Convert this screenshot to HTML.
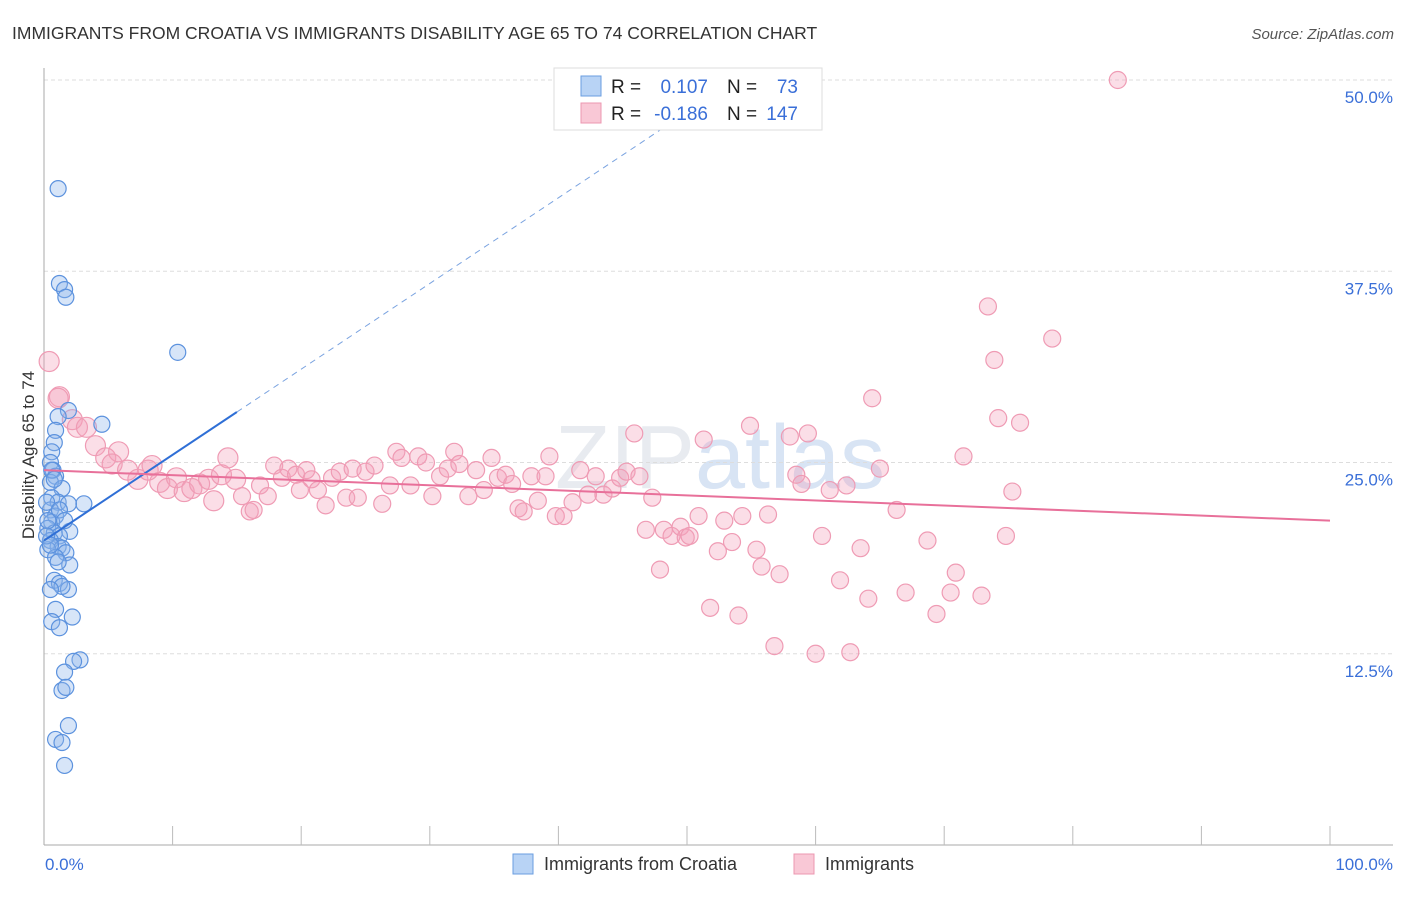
<!DOCTYPE html>
<html><head><meta charset="utf-8"><style>
body{margin:0;background:#fff;font-family:"Liberation Sans",sans-serif;}
svg text{font-family:"Liberation Sans",sans-serif;}
</style></head><body>
<svg width="1406" height="892" viewBox="0 0 1406 892" xmlns="http://www.w3.org/2000/svg">
<text x="12" y="39" font-size="17.5" fill="#333">IMMIGRANTS FROM CROATIA VS IMMIGRANTS DISABILITY AGE 65 TO 74 CORRELATION CHART</text>
<text x="1394" y="39" font-size="15" fill="#555" font-style="italic" text-anchor="end">Source: ZipAtlas.com</text>
<text x="720" y="488" font-size="90" fill="#e8ebf0" text-anchor="middle" font-family="Liberation Serif">ZIP<tspan fill="#d8e4f4" font-family="Liberation Sans">atlas</tspan></text>
<g id="grid"></g>
<g id="axes"></g>
<g id="pink"></g>
<g id="blue"></g>
<g id="trends"></g>
<text x="34" y="455" font-size="17" fill="#333" text-anchor="middle" transform="rotate(-90 34 455)">Disability Age 65 to 74</text>
<text x="45" y="870" font-size="17" fill="#3a6fd8">0.0%</text>
<text x="1393" y="870" font-size="17" fill="#3a6fd8" text-anchor="end">100.0%</text>
<g>
<rect x="554" y="68" width="268" height="62" fill="#fff" stroke="#ddd"/>
<rect x="581" y="76" width="20" height="20" fill="#b8d3f5" stroke="#6a9ee0"/>
<rect x="581" y="103" width="20" height="20" fill="#f9c8d6" stroke="#ec97b0"/>
<text x="611" y="93" font-size="19" fill="#222">R = </text><text x="708" y="93" font-size="19" fill="#3a6fd8" text-anchor="end">0.107</text>
<text x="727" y="93" font-size="19" fill="#222">N = </text><text x="798" y="93" font-size="19" fill="#3a6fd8" text-anchor="end">73</text>
<text x="611" y="120" font-size="19" fill="#222">R = </text><text x="708" y="120" font-size="19" fill="#3a6fd8" text-anchor="end">-0.186</text>
<text x="727" y="120" font-size="19" fill="#222">N = </text><text x="798" y="120" font-size="19" fill="#3a6fd8" text-anchor="end">147</text>
</g>
<g>
<rect x="513" y="854" width="20" height="20" fill="#b8d3f5" stroke="#6a9ee0"/>
<text x="544" y="870" font-size="18" fill="#333">Immigrants from Croatia</text>
<rect x="794" y="854" width="20" height="20" fill="#f9c8d6" stroke="#ec97b0"/>
<text x="825" y="870" font-size="18" fill="#333">Immigrants</text>
</g>
</svg>
<script>
const yTicks=[12.5,25,37.5,50];
const yTickLabels=["12.5%","25.0%","37.5%","50.0%"];
const blueX=[1.1,1.2,1.6,1.7,10.4,4.5,1.9,1.1,0.9,0.8,0.6,0.5,0.7,0.9,0.5,1.4,0.6,1.1,3.1,1.9,0.5,0.9,0.6,0.3,0.8,2.0,1.2,0.5,1.1,1.4,0.3,1.7,0.9,2.0,0.8,1.2,1.9,1.4,0.5,0.9,2.2,0.6,1.2,2.8,2.3,1.6,1.4,1.7,1.9,0.9,1.4,1.6,0.2,0.3,0.6,0.8,1.2,0.2,0.5,1.1,1.6];
const blueY=[42.9,36.7,36.3,35.8,32.2,27.5,28.4,28.0,27.1,26.3,25.7,25.0,24.5,24.1,23.7,23.3,22.7,22.4,22.3,22.3,21.9,21.5,21.1,20.7,20.4,20.5,20.2,19.9,19.5,19.4,19.3,19.1,18.8,18.3,17.3,17.1,16.7,16.9,16.7,15.4,14.9,14.6,14.2,12.1,12.0,11.3,10.1,10.3,7.8,6.9,6.7,5.2,22.4,21.2,24.5,23.9,21.9,20.2,19.6,18.5,21.2];
const pinkX=[0.4,1.2,1.1,2.2,2.6,3.3,4.0,4.8,5.8,5.3,6.5,7.3,8.1,8.4,9.0,9.6,10.3,10.9,11.5,12.1,12.8,13.2,13.8,14.3,14.9,15.4,16.0,16.3,16.8,17.4,17.9,18.5,19.0,19.6,19.9,20.4,20.8,21.3,21.9,22.4,23.0,23.5,24.0,24.4,25.0,25.7,26.3,26.9,27.4,27.8,28.5,29.1,29.7,30.2,30.8,31.4,31.9,32.3,33.0,33.6,34.2,34.8,35.3,35.9,36.4,36.9,37.3,37.9,38.4,39.0,39.3,39.8,40.4,41.1,41.7,42.3,42.9,43.5,44.2,44.8,45.3,45.9,46.3,46.8,47.3,47.9,48.2,48.8,49.5,49.9,50.2,50.9,51.3,51.8,52.4,52.9,53.5,54.0,54.3,54.9,55.4,55.8,56.3,56.8,57.2,58.0,58.5,58.9,59.4,60.0,60.5,61.1,61.9,62.4,62.7,63.5,64.1,64.4,65.0,66.3,67.0,68.7,69.4,70.5,70.9,71.5,72.9,73.4,73.9,74.2,74.8,75.3,75.9,78.4,83.5];
const pinkY=[31.6,29.3,29.2,27.8,27.3,27.3,26.1,25.3,25.7,24.9,24.5,23.9,24.5,24.8,23.7,23.3,24.0,23.1,23.3,23.6,23.9,22.5,24.2,25.3,23.9,22.8,21.8,21.9,23.5,22.8,24.8,24.0,24.6,24.2,23.2,24.5,23.9,23.2,22.2,24.0,24.4,22.7,24.6,22.7,24.4,24.8,22.3,23.5,25.7,25.3,23.5,25.4,25.0,22.8,24.1,24.6,25.7,24.9,22.8,24.5,23.2,25.3,24.0,24.2,23.6,22.0,21.8,24.1,22.5,24.1,25.4,21.5,21.5,22.4,24.5,22.9,24.1,22.9,23.3,24.0,24.4,26.9,24.1,20.6,22.7,18.0,20.6,20.2,20.8,20.1,20.2,21.5,26.5,15.5,19.2,21.2,19.8,15.0,21.5,27.4,19.3,18.2,21.6,13.0,17.7,26.7,24.2,23.6,26.9,12.5,20.2,23.2,17.3,23.5,12.6,19.4,16.1,29.2,24.6,21.9,16.5,19.9,15.1,16.5,17.8,25.4,16.3,35.2,31.7,27.9,20.2,23.1,27.6,33.1,50.0];
const blueTrend=[19.9,0.107];  // intercept, used with slope per % x
const pinkTrend=[24.5,21.2];   // y at x=0, y at x=100
const X0=44,X1=1330,Y0=845,YS=15.3;
const sx=v=>X0+(X1-X0)*v/100, sy=v=>Y0-v*YS;
const NS="http://www.w3.org/2000/svg";
function mk(t,a,p){const e=document.createElementNS(NS,t);for(const k in a)e.setAttribute(k,a[k]);p.appendChild(e);return e;}
const grid=document.getElementById('grid'),axes=document.getElementById('axes');
yTicks.forEach((t,i)=>{
 const l=mk('line',{x1:X0,x2:1393,y1:sy(t),y2:sy(t),stroke:'#ddd','stroke-dasharray':'4,3'},grid);
 
 
 const tx=mk('text',{x:1393,y:sy(t)+23,'font-size':17,fill:'#3a6fd8','text-anchor':'end'},axes);
 tx.textContent=yTickLabels[i];
 
 
});
const ya=mk('line',{x1:X0,x2:X0,y1:68,y2:Y0,stroke:'#aaa'},axes);


const xa=mk('line',{x1:X0,x2:1393,y1:Y0,y2:Y0,stroke:'#aaa'},axes);


for(let k=1;k<=10;k++){const t=mk('line',{x1:sx(k*10),x2:sx(k*10),y1:826,y2:Y0,stroke:'#bbb'},axes);
 
 }
const pg=document.getElementById('pink');
pinkX.forEach((x,i)=>{const c=mk('circle',{cx:sx(x),cy:sy(pinkY[i]),r:x<15?10:8.5,fill:'rgba(244,160,186,0.35)',stroke:'#ef9bb4','stroke-width':1.2},pg);
 
 });
const bg=document.getElementById('blue');
blueX.forEach((x,i)=>{const c=mk('circle',{cx:sx(x),cy:sy(blueY[i]),r:8,fill:'rgba(140,180,235,0.35)',stroke:'#5c92de','stroke-width':1.2},bg);
 
 });
const tg=document.getElementById('trends');
const bSlope=(28.3-blueTrend[0])/15;
const bt=mk('line',{x1:sx(0),y1:sy(blueTrend[0]),x2:sx(15),y2:sy(blueTrend[0]+bSlope*15),stroke:'#2f6fd6','stroke-width':2},tg);


const bd=mk('line',{x1:sx(15),y1:sy(blueTrend[0]+bSlope*15),x2:sx(50),y2:sy(blueTrend[0]+bSlope*50),stroke:'#7aa3e0','stroke-width':1,'stroke-dasharray':'6,5'},tg);


const pt=mk('line',{x1:sx(0),y1:sy(pinkTrend[0]),x2:sx(100),y2:sy(pinkTrend[1]),stroke:'#e8709a','stroke-width':2},tg);


</script>
</body></html>
